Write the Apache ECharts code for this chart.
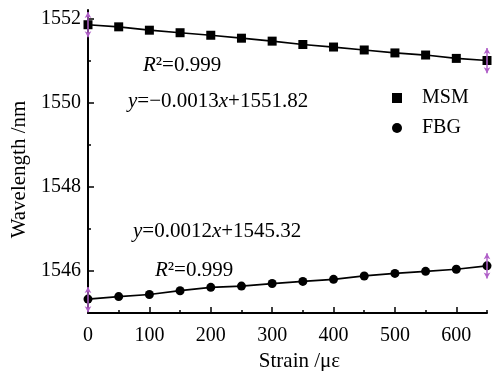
<!DOCTYPE html>
<html>
<head>
<meta charset="utf-8">
<script src="https://cdn.jsdelivr.net/npm/echarts@6/dist/echarts.min.js"></script>
<style>html,body{margin:0;padding:0;background:#fff}#c{width:503px;height:371px}</style>
</head>
<body>
<div id="c"></div>
<script>
const strain = [0,50,100,150,200,250,300,350,400,450,500,550,600,650];
const msm = [1551.85,1551.80,1551.72,1551.66,1551.60,1551.53,1551.46,1551.38,1551.32,1551.25,1551.18,1551.13,1551.05,1551.00];
const fbg = [1545.33,1545.39,1545.44,1545.53,1545.61,1545.64,1545.70,1545.75,1545.80,1545.88,1545.94,1545.99,1546.04,1546.12];
const xLabels = [0,100,200,300,400,500,600];
const xMinor = [50,150,250,350,450,550,650];
const yLabels = [1546,1548,1550,1552];
const yMinor = [1547,1549,1551];
// purple double-arrow error markers: [x, low, high]
const msmArrows = [[0,1551.55,1552.15],[650,1550.70,1551.30]];
const fbgArrows = [[0,1545.02,1545.62],[650,1545.82,1546.42]];

const FONT = "'Liberation Serif','DejaVu Serif',serif";
const chart = echarts.init(document.getElementById('c'), null, {renderer:'canvas'});

function arrows(list){
  return {
    silent:true, symbol:['arrow','arrow'], symbolSize:[5,6],
    label:{show:false},
    lineStyle:{color:'#b060c8', width:1.5, type:'solid'},
    emphasis:{disabled:true},
    data: list.map(a => [{coord:[a[0],a[1]]},{coord:[a[0],a[2]]}])
  };
}

const axisCommon = { type:'value', splitLine:{show:false} };
const richI = {i:{fontStyle:'italic', fontFamily:FONT, fontSize:21, fill:'#000'}};
function note(x, y, text){
  return {type:'text', x:x, y:y, style:{text:text, fill:'#000', fontFamily:FONT, fontSize:21, verticalAlign:'middle', align:'left', rich:richI}};
}

chart.setOption({
  animation:false,
  backgroundColor:'#fff',
  grid:{left:88, right:16, top:10, bottom:58, containLabel:false, outerBoundsMode:'none'},
  xAxis:[
    Object.assign({}, axisCommon, {
      min:0, max:650, position:'bottom',
      name:'Strain /με', nameLocation:'middle', nameGap:29,
      nameTextStyle:{fontFamily:FONT, fontSize:21, color:'#000', padding:[0,0,0,24]},
      axisLine:{show:true, lineStyle:{color:'#000', width:2}},
      axisTick:{show:true, inside:true, length:6, lineStyle:{color:'#000', width:1.5}, customValues:xLabels},
      axisLabel:{show:true, color:'#000', fontFamily:FONT, fontSize:20, margin:13, customValues:xLabels, formatter:v=>String(v)}
    }),
    Object.assign({}, axisCommon, {
      min:0, max:650, position:'bottom', offset:0,
      axisLine:{show:false},
      axisTick:{show:true, inside:true, length:3, lineStyle:{color:'#000', width:1.5}, customValues:xMinor},
      axisLabel:{show:false}
    })
  ],
  yAxis:[
    Object.assign({}, axisCommon, {
      min:1545, max:1552.2, position:'left',
      name:'Wavelength /nm', nameLocation:'middle', nameGap:54,
      nameTextStyle:{fontFamily:FONT, fontSize:21, color:'#000', padding:[0,16,0,0]},
      axisLine:{show:true, lineStyle:{color:'#000', width:2}},
      axisTick:{show:true, inside:true, length:6, lineStyle:{color:'#000', width:1.5}, customValues:yLabels},
      axisLabel:{show:true, color:'#000', fontFamily:FONT, fontSize:20, margin:7, customValues:yLabels, formatter:v=>String(v)}
    }),
    Object.assign({}, axisCommon, {
      min:1545, max:1552.2, position:'left', offset:0,
      axisLine:{show:false},
      axisTick:{show:true, inside:true, length:3, lineStyle:{color:'#000', width:1.5}, customValues:yMinor},
      axisLabel:{show:false}
    })
  ],
  legend:{
    orient:'vertical', left:387, top:83, itemGap:10,
    itemWidth:10, itemHeight:10,
    textStyle:{fontFamily:FONT, fontSize:20, color:'#000', padding:[0,0,0,15]},
    data:[{name:'MSM', icon:'rect'},{name:'FBG', icon:'circle'}]
  },
  series:[
    {
      name:'MSM', type:'line', xAxisIndex:0, yAxisIndex:0,
      data: strain.map((x,i)=>[x,msm[i]]),
      symbol:'rect', symbolSize:9, showAllSymbol:true,
      itemStyle:{color:'#000'}, lineStyle:{color:'#000', width:1.7},
      clip:false, markLine: arrows(msmArrows), z:3
    },
    {
      name:'FBG', type:'line', xAxisIndex:0, yAxisIndex:0,
      data: strain.map((x,i)=>[x,fbg[i]]),
      symbol:'circle', symbolSize:9, showAllSymbol:true,
      itemStyle:{color:'#000'}, lineStyle:{color:'#000', width:1.7},
      clip:false, markLine: arrows(fbgArrows), z:3
    }
  ],
  graphic:[
    note(143, 65, '{i|R}²=0.999'),
    note(128, 101, '{i|y}=−0.0013{i|x}+1551.82'),
    note(133, 231, '{i|y}=0.0012{i|x}+1545.32'),
    note(155, 270, '{i|R}²=0.999')
  ]
});
</script>
</body>
</html>
